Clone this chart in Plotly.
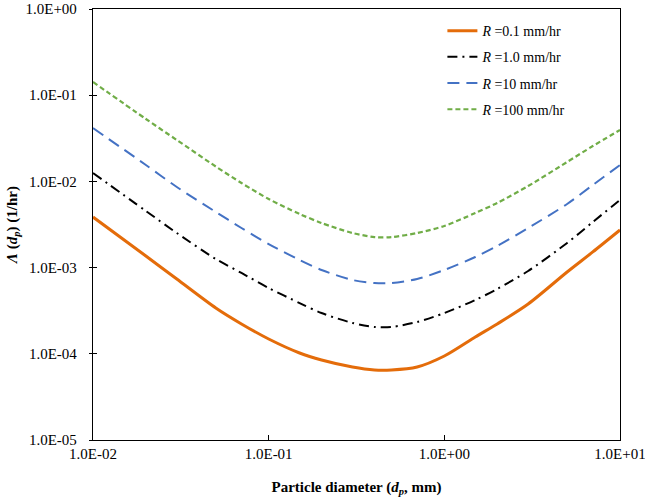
import plotly.graph_objects as go

# Particle diameter (mm)
diameter = [0.01, 0.02, 0.03, 0.05, 0.07, 0.1, 0.15, 0.2, 0.3, 0.4, 0.5, 0.7,
            1.0, 1.5, 2.0, 3.0, 5.0, 7.0, 10.0]

# Scavenging coefficient (1/hr) for each rainfall intensity
lam_r01 = [3.86e-3, 1.363e-3, 7.37e-4, 3.40e-4, 2.22e-4, 1.485e-4, 1.022e-4, 8.48e-5,
           7.03e-5, 6.49e-5, 6.49e-5, 7.03e-5, 9.43e-5, 1.566e-4, 2.22e-4, 3.78e-4,
           8.89e-4, 1.52e-3, 2.73e-3]
lam_r1 = [1.252e-2, 4.54e-3, 2.52e-3, 1.258e-3, 8.66e-4, 5.80e-4, 3.88e-4, 2.97e-4,
          2.28e-4, 2.05e-4, 2.05e-4, 2.34e-4, 2.97e-4, 4.21e-4, 5.65e-4, 9.13e-4,
          1.93e-3, 3.38e-3, 6.09e-3]
lam_r10 = [4.16e-2, 1.55e-2, 8.61e-3, 4.42e-3, 2.88e-3, 1.878e-3, 1.225e-3, 9.38e-4,
           7.18e-4, 6.63e-4, 6.63e-4, 7.37e-4, 9.38e-4, 1.327e-3, 1.78e-3, 2.88e-3,
           5.47e-3, 9.08e-3, 1.55e-2]
lam_r100 = [1.422e-1, 5.30e-2, 3.02e-2, 1.489e-2, 9.58e-3, 6.25e-3, 4.19e-3, 3.29e-3,
            2.52e-3, 2.26e-3, 2.26e-3, 2.52e-3, 3.04e-3, 4.30e-3, 5.62e-3, 8.84e-3,
            1.68e-2, 2.57e-2, 3.95e-2]

series_names = ["<i>R</i> =0.1 mm/hr", "<i>R</i> =1.0 mm/hr",
                "<i>R</i> =10 mm/hr", "<i>R</i> =100 mm/hr"]

x_tickvals = [0.01, 0.1, 1, 10]
x_ticktext = ["1.0E-02", "1.0E-01", "1.0E+00", "1.0E+01"]
y_tickvals = [1e-5, 1e-4, 1e-3, 1e-2, 1e-1, 1]
y_ticktext = ["1.0E-05", "1.0E-04", "1.0E-03", "1.0E-02", "1.0E-01", "1.0E+00"]

styles = [
    dict(color="#E46C0A", width=3, dash="solid"),
    dict(color="#000000", width=2, dash="10px,5px,2px,5px"),
    dict(color="#4472C4", width=2, dash="12px,7px"),
    dict(color="#70AD47", width=2.2, dash="5px,3px"),
]

fig = go.Figure()
for i, (name, ys) in enumerate(zip(series_names, [lam_r01, lam_r1, lam_r10, lam_r100])):
    fig.add_trace(go.Scatter(
        x=diameter, y=ys, mode="lines", name=name,
        line=dict(shape="spline", smoothing=0.8, **styles[i]),
        legendgroup=f"g{i}",
    ))
# invisible trace on an overlaid axis to give inward y ticks (crossing ticks)
fig.add_trace(go.Scatter(x=[diameter[0]], y=[lam_r01[0]], yaxis="y2", mode="markers",
                         marker=dict(opacity=0), showlegend=False, hoverinfo="skip"))

font_family = "Liberation Serif"
fig.update_layout(
    width=645, height=500,
    margin=dict(l=93, r=25, t=9, b=60, autoexpand=False),
    paper_bgcolor="white", plot_bgcolor="white",
    font=dict(family=font_family, size=15, color="black"),
    showlegend=True,
    legend=dict(
        x=0.663, y=0.986, xanchor="left", yanchor="top",
        bgcolor="rgba(255,255,255,0)", borderwidth=0,
        font=dict(family=font_family, size=14, color="black"),
        tracegroupgap=5,
    ),
    xaxis=dict(
        type="log", range=[-2, 1], automargin=False,
        tickvals=x_tickvals, ticktext=x_ticktext,
        ticks="inside", ticklen=5, tickcolor="black",
        showline=True, linecolor="black", linewidth=1.3, mirror=True,
        showgrid=False, zeroline=False,
        ticklabeloverflow="allow",
        tickfont=dict(family=font_family, size=15),
        title=dict(text="<b>Particle diameter (<i>d<sub>p</sub></i>, mm)</b>",
                   font=dict(family=font_family, size=15), standoff=20),
    ),
    yaxis=dict(
        type="log", range=[-5, 0], automargin=False,
        tickvals=y_tickvals, ticktext=y_ticktext,
        ticks="outside", ticklen=3, tickcolor="black",
        showline=True, linecolor="black", linewidth=1.3, mirror=True,
        showgrid=False, zeroline=False,
        ticklabeloverflow="allow",
        tickfont=dict(family=font_family, size=15),
        ticklabelstandoff=9,
        title=dict(text="<b><i>Λ</i> (<i>d<sub>p</sub></i>) (1/hr)</b>",
                   font=dict(family=font_family, size=15), standoff=4),
    ),
    yaxis2=dict(type="log", range=[-5, 0], overlaying="y", side="left", automargin=False,
                tickvals=y_tickvals, ticks="inside", ticklen=4, tickcolor="black",
                showticklabels=False, showgrid=False, zeroline=False, showline=False),
)

fig.write_html("out.html", config={"displayModeBar": False},
               post_script="document.body.style.margin='0px';")
